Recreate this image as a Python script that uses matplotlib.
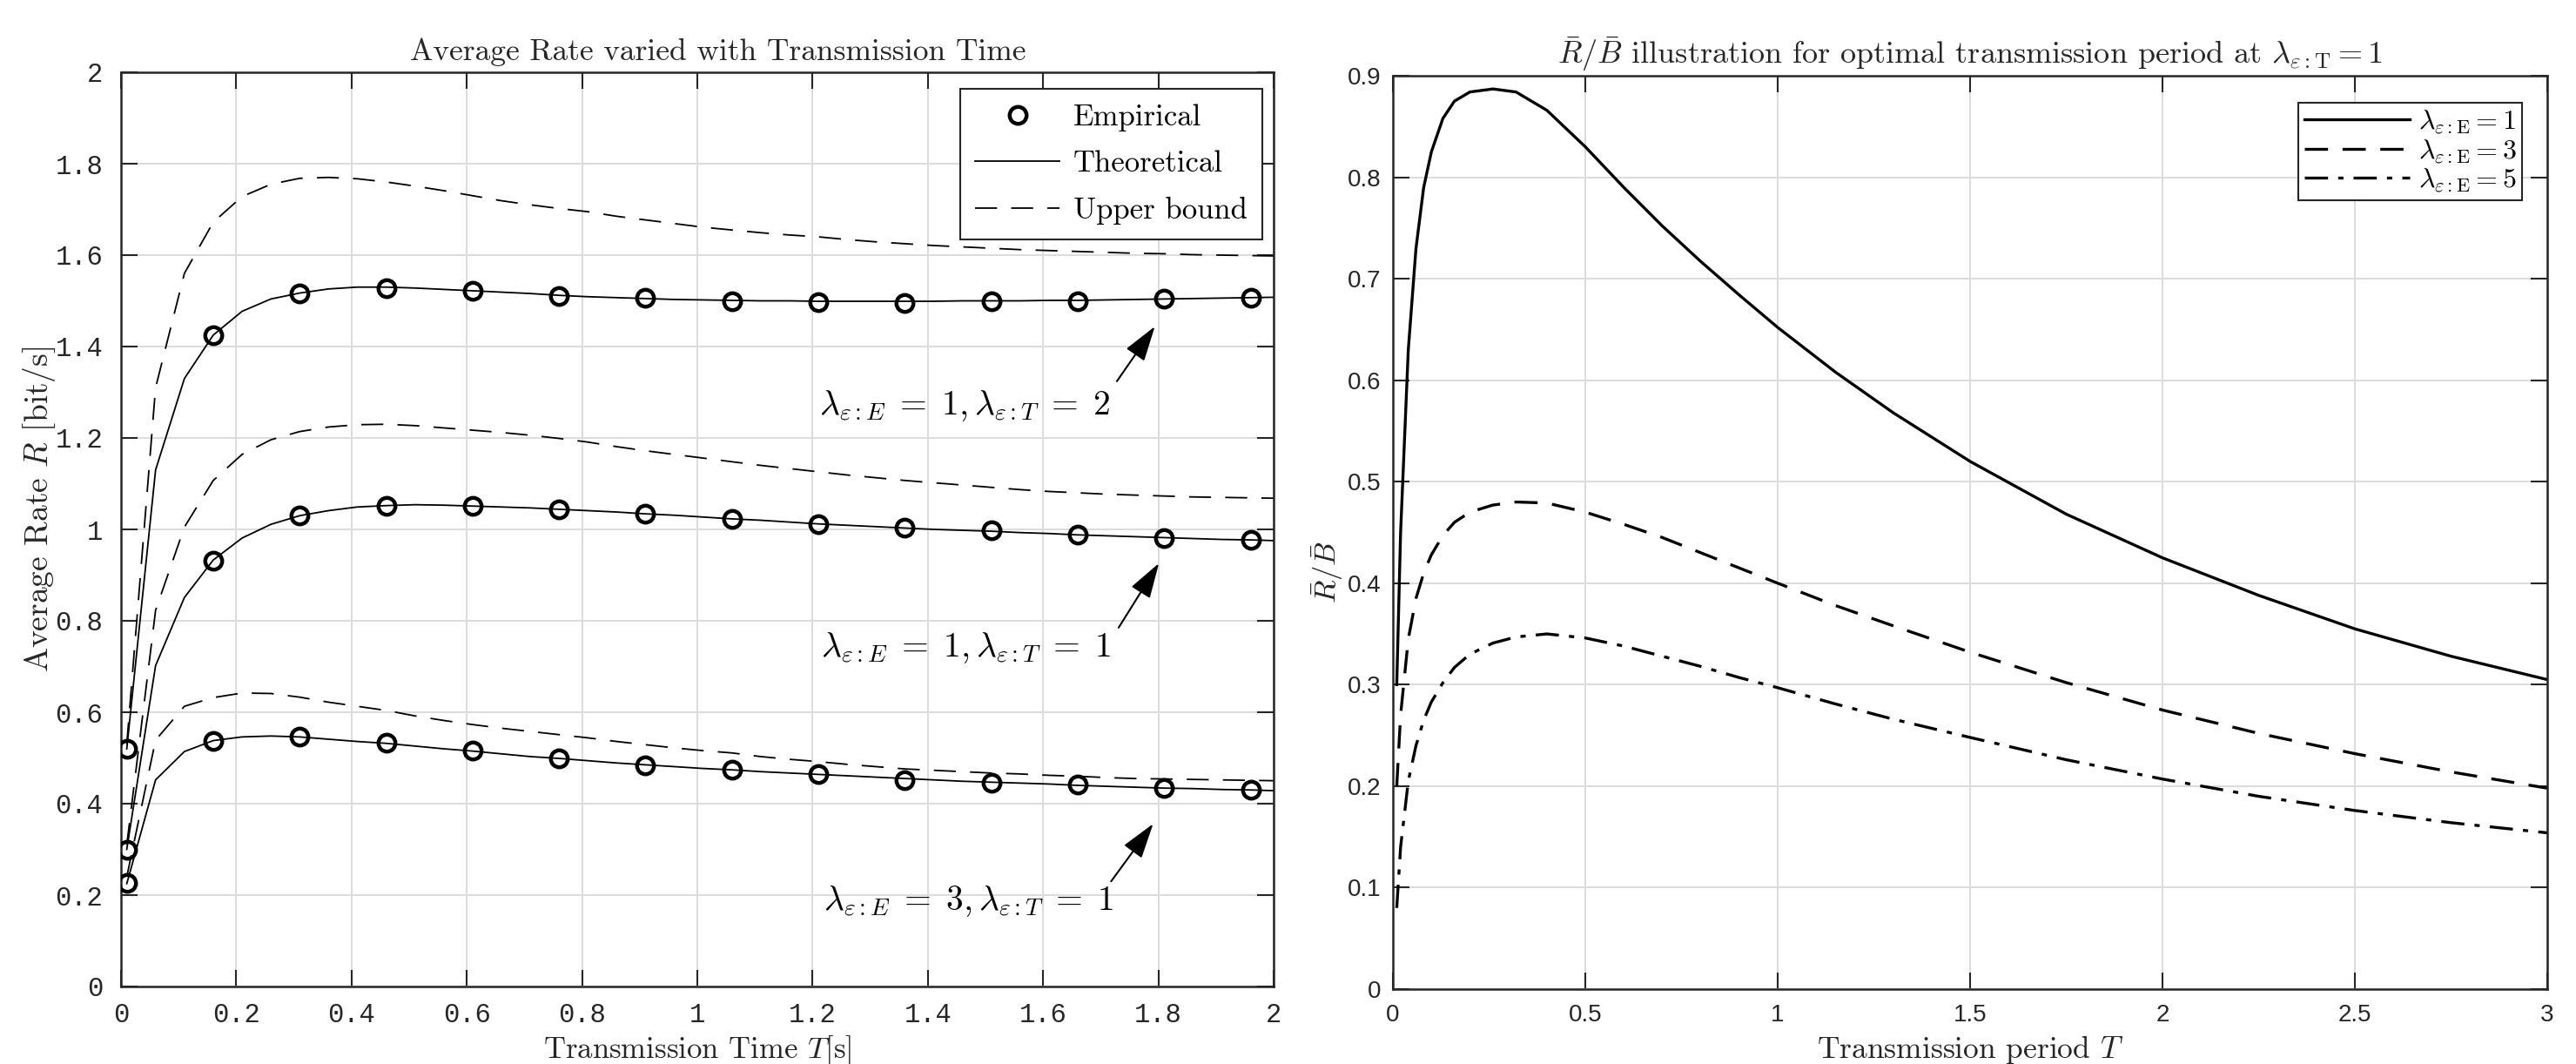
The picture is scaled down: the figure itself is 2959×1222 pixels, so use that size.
import matplotlib
matplotlib.use("Agg")
import matplotlib.pyplot as plt
import numpy as np

plt.rcParams['mathtext.fontset'] = 'cm'
plt.rcParams['axes.unicode_minus'] = False

# ---------------- left panel data ----------------
T_theory = [0.01, 0.06, 0.11, 0.16, 0.21, 0.26, 0.31, 0.36, 0.41, 0.46, 0.51,
            0.56, 0.61, 0.66, 0.71, 0.76, 0.81, 0.86, 0.91, 0.96, 1.01,
            1.06, 1.11, 1.16, 1.21, 1.26, 1.31, 1.36, 1.41, 1.46, 1.51,
            1.56, 1.61, 1.66, 1.71, 1.76, 1.81, 1.86, 1.91, 1.96, 2.01]

th_e1_t2 = [0.52, 1.13, 1.33, 1.425, 1.477, 1.504, 1.517, 1.526, 1.530, 1.530, 1.528,
            1.525, 1.522, 1.519, 1.516, 1.512, 1.509, 1.507, 1.505, 1.503, 1.502,
            1.501, 1.500, 1.500, 1.499, 1.499, 1.499, 1.499, 1.499, 1.500, 1.500,
            1.500, 1.501, 1.501, 1.502, 1.503, 1.504, 1.505, 1.506, 1.507, 1.508]
ub_e1_t2 = [0.53, 1.31, 1.56, 1.672, 1.728, 1.755, 1.768, 1.770, 1.767, 1.760, 1.751,
            1.741, 1.730, 1.719, 1.710, 1.702, 1.695, 1.685, 1.677, 1.669, 1.661,
            1.655, 1.649, 1.644, 1.640, 1.634, 1.629, 1.625, 1.621, 1.618, 1.615,
            1.612, 1.610, 1.608, 1.606, 1.604, 1.603, 1.601, 1.600, 1.599, 1.598]

th_e1_t1 = [0.30, 0.702, 0.851, 0.933, 0.981, 1.011, 1.030, 1.041, 1.049, 1.052, 1.054,
            1.053, 1.051, 1.049, 1.047, 1.044, 1.041, 1.038, 1.034, 1.031, 1.027,
            1.023, 1.020, 1.016, 1.012, 1.009, 1.006, 1.003, 1.000, 0.998, 0.996,
            0.993, 0.991, 0.988, 0.986, 0.984, 0.982, 0.980, 0.978, 0.977, 0.975]
ub_e1_t1 = [0.31, 0.823, 1.005, 1.107, 1.164, 1.196, 1.214, 1.224, 1.229, 1.230, 1.227,
            1.222, 1.217, 1.212, 1.206, 1.199, 1.191, 1.181, 1.172, 1.164, 1.156,
            1.148, 1.140, 1.133, 1.126, 1.119, 1.113, 1.107, 1.102, 1.097, 1.092,
            1.087, 1.083, 1.080, 1.077, 1.075, 1.073, 1.071, 1.070, 1.069, 1.068]

th_e3_t1 = [0.225, 0.452, 0.514, 0.538, 0.546, 0.548, 0.546, 0.541, 0.536, 0.532, 0.526,
            0.520, 0.515, 0.509, 0.503, 0.499, 0.494, 0.489, 0.485, 0.481, 0.477,
            0.474, 0.470, 0.467, 0.464, 0.461, 0.458, 0.455, 0.452, 0.449, 0.447,
            0.445, 0.443, 0.440, 0.438, 0.436, 0.434, 0.433, 0.431, 0.430, 0.428]
ub_e3_t1 = [0.24, 0.539, 0.613, 0.632, 0.642, 0.641, 0.633, 0.622, 0.613, 0.604, 0.592,
            0.582, 0.573, 0.565, 0.558, 0.551, 0.544, 0.536, 0.529, 0.522, 0.516,
            0.511, 0.503, 0.497, 0.492, 0.486, 0.481, 0.476, 0.473, 0.470, 0.467,
            0.465, 0.462, 0.460, 0.457, 0.455, 0.454, 0.453, 0.452, 0.451, 0.450]

T_emp = [0.01, 0.16, 0.31, 0.46, 0.61, 0.76, 0.91, 1.06, 1.21, 1.36, 1.51, 1.66, 1.81, 1.96]
emp_e1_t2 = [0.52, 1.424, 1.516, 1.528, 1.521, 1.511, 1.506, 1.499, 1.497, 1.495, 1.499, 1.499, 1.504, 1.507]
emp_e1_t1 = [0.30, 0.931, 1.030, 1.052, 1.052, 1.044, 1.034, 1.023, 1.012, 1.003, 0.998, 0.988, 0.981, 0.977]
emp_e3_t1 = [0.226, 0.538, 0.546, 0.533, 0.516, 0.500, 0.484, 0.475, 0.465, 0.452, 0.446, 0.441, 0.435, 0.431]

# ---------------- right panel data ----------------
T_period = [0.01, 0.02, 0.04, 0.06, 0.08, 0.1, 0.13, 0.16, 0.2, 0.26, 0.32, 0.4, 0.5,
            0.6, 0.7, 0.8, 0.9, 1.0, 1.15, 1.3, 1.5, 1.75, 2.0, 2.25, 2.5, 2.75, 3.0]
rb_e1 = [0.30, 0.45, 0.63, 0.73, 0.79, 0.825, 0.858, 0.875, 0.884, 0.887, 0.884, 0.866, 0.83,
         0.79, 0.752, 0.717, 0.684, 0.652, 0.608, 0.568, 0.52, 0.468, 0.425, 0.388, 0.355, 0.328, 0.305]
rb_e3 = [0.20, 0.27, 0.345, 0.385, 0.41, 0.428, 0.447, 0.46, 0.47, 0.477, 0.48, 0.479, 0.47,
         0.458, 0.445, 0.43, 0.415, 0.40, 0.378, 0.358, 0.332, 0.302, 0.275, 0.252, 0.232, 0.214, 0.198]
rb_e5 = [0.08, 0.14, 0.205, 0.24, 0.265, 0.283, 0.302, 0.317, 0.33, 0.341, 0.347, 0.35, 0.346,
         0.338, 0.328, 0.318, 0.307, 0.297, 0.281, 0.266, 0.248, 0.226, 0.207, 0.19, 0.176, 0.164, 0.154]

W, H = 2959, 1222
fig = plt.figure(figsize=(W / 100, H / 100), dpi=100)


def fr(x0, y0, x1, y1):
    return [x0 / W, 1 - y1 / H, (x1 - x0) / W, (y1 - y0) / H]


grid_kw = dict(color='#dcdcdc', linewidth=1.4)
spine_col = '#262626'

# ---------------- left axes ----------------
ax = fig.add_axes(fr(139, 83, 1463, 1133))
dash = (0, (14, 9))
series = [(th_e1_t2, ub_e1_t2, emp_e1_t2),
          (th_e1_t1, ub_e1_t1, emp_e1_t1),
          (th_e3_t1, ub_e3_t1, emp_e3_t1)]
for i, (th, ub, emp) in enumerate(series):
    ax.plot(T_emp, emp, linestyle='none', marker='o', ms=14, mew=3.2, mfc='none',
            mec='k', label='Empirical' if i == 0 else None, zorder=4)
    ax.plot(T_theory, th, color='k', lw=1.3, label='Theoretical' if i == 0 else None)
    ax.plot(T_theory, ub, color='k', lw=1.3, linestyle=dash,
            label='Upper bound' if i == 0 else None)

ax.set_xlim(0, 2)
ax.set_ylim(0, 2)
ax.set_xticks(np.arange(0, 2.01, 0.2))
ax.set_yticks(np.arange(0, 2.01, 0.2))
ax.set_xticklabels(['0', '0.2', '0.4', '0.6', '0.8', '1', '1.2', '1.4', '1.6', '1.8', '2'])
ax.set_yticklabels(['0', '0.2', '0.4', '0.6', '0.8', '1', '1.2', '1.4', '1.6', '1.8', '2'])
ax.grid(True, **grid_kw)
ax.set_axisbelow(True)
ax.tick_params(direction='in', length=14, width=1.5, top=True, right=True,
               color=spine_col)
ax.tick_params(axis='y', pad=15)
ax.tick_params(axis='x', pad=13)
for lab in ax.get_xticklabels() + ax.get_yticklabels():
    lab.set_family('Liberation Mono')
    lab.set_fontsize(22)
    lab.set_color('#262626')
for s in ax.spines.values():
    s.set_linewidth(1.8)
    s.set_color(spine_col)

ax.set_title('Average Rate varied with Transmission Time', family='cmr10',
             fontsize=25.5, pad=10, color='#262626', x=(825 - 139) / 1324)
ax.set_xlabel(r'Transmission Time $T$[s]', family='cmr10', fontsize=25,
              color='#262626')
ax.xaxis.set_label_coords(0.5, -0.051)
ax.set_ylabel(r'Average Rate $R$ [bit/s]', family='cmr10', fontsize=27,
              color='#262626')
ax.yaxis.set_label_coords((66 - 139) / 1324, 0.522)

leg = ax.legend(loc='upper right', bbox_to_anchor=(1450 / W, 1 - 102 / H),
                bbox_transform=fig.transFigure, fancybox=False, framealpha=1,
                edgecolor='#262626', prop={'family': 'cmr10', 'size': 25},
                handlelength=2.8, borderpad=0.5, labelspacing=0.62,
                handletextpad=0.45, borderaxespad=0)
leg.get_frame().set_linewidth(1.5)

arrow_kw = dict(arrowstyle='-|>,head_length=0.9,head_width=0.28', color='k',
                lw=1.5, mutation_scale=28, shrinkA=0, shrinkB=0)
labels = [(r'$\lambda_{\varepsilon:E}\;=\;1,\lambda_{\varepsilon:T}\;=\;2$', (1.463, 1.27), (1.728, 1.324), (1.794, 1.444)),
          (r'$\lambda_{\varepsilon:E}\;=\;1,\lambda_{\varepsilon:T}\;=\;1$', (1.466, 0.74), (1.731, 0.785), (1.801, 0.926)),
          (r'$\lambda_{\varepsilon:E}\;=\;3,\lambda_{\varepsilon:T}\;=\;1$', (1.471, 0.186), (1.718, 0.230), (1.791, 0.356))]
for txt, tpos, a0, a1 in labels:
    ax.text(tpos[0], tpos[1], txt, fontsize=28.5, ha='center', va='center')
    ax.annotate('', xy=a1, xytext=a0, arrowprops=arrow_kw)

# ---------------- right axes ----------------
ax2 = fig.add_axes(fr(1600, 87, 2926, 1136))
ax2.plot(T_period, rb_e1, color='k', lw=2.4, label=r'$\lambda_{\varepsilon:\mathrm{E}}=1$')
ax2.plot(T_period, rb_e3, color='k', lw=2.4, linestyle=(0, (8, 5)),
         label=r'$\lambda_{\varepsilon:\mathrm{E}}=3$')
ax2.plot(T_period, rb_e5, color='k', lw=2.4, linestyle=(0, (8, 3.5, 1.8, 3.5)),
         label=r'$\lambda_{\varepsilon:\mathrm{E}}=5$')
ax2.set_xlim(0, 3)
ax2.set_ylim(0, 0.9)
ax2.set_xticks(np.arange(0, 3.01, 0.5))
ax2.set_yticks(np.arange(0, 0.91, 0.1))
ax2.set_xticklabels(['0', '0.5', '1', '1.5', '2', '2.5', '3'])
ax2.set_yticklabels(['0', '0.1', '0.2', '0.3', '0.4', '0.5', '0.6', '0.7', '0.8', '0.9'])
ax2.grid(True, **grid_kw)
ax2.set_axisbelow(True)
ax2.tick_params(direction='in', length=14, width=1.5, top=True, right=True,
                color=spine_col)
ax2.tick_params(axis='y', pad=10)
ax2.tick_params(axis='x', pad=12)
for lab in ax2.get_xticklabels() + ax2.get_yticklabels():
    lab.set_family('Liberation Sans')
    lab.set_fontsize(20)
    lab.set_color('#262626')
for s in ax2.spines.values():
    s.set_linewidth(1.8)
    s.set_color(spine_col)

ax2.set_title(r'$\bar{R}/\bar{B}$ illustration for optimal transmission period at '
              r'$\lambda_{\varepsilon:\mathrm{T}}=1$', family='cmr10', fontsize=26,
              pad=10, color='#262626')
ax2.set_xlabel(r'Transmission period $T$', family='cmr10', fontsize=25.5,
               color='#262626')
ax2.xaxis.set_label_coords(0.5, -0.049)
ax2.set_ylabel(r'$\bar{R}/\bar{B}$', family='cmr10', fontsize=25, color='#262626')
ax2.yaxis.set_label_coords((1545 - 1600) / 1326, 0.457)

leg2 = ax2.legend(loc='upper right', bbox_to_anchor=(2897 / W, 1 - 118 / H),
                  bbox_transform=fig.transFigure, fancybox=False, framealpha=1,
                  edgecolor='#262626', prop={'size': 23},
                  handlelength=3.8, borderpad=0.2, labelspacing=0.05,
                  handletextpad=0.3, borderaxespad=0)
leg2.get_frame().set_linewidth(1.5)

fig.savefig('out.png', dpi=100, facecolor='white')
